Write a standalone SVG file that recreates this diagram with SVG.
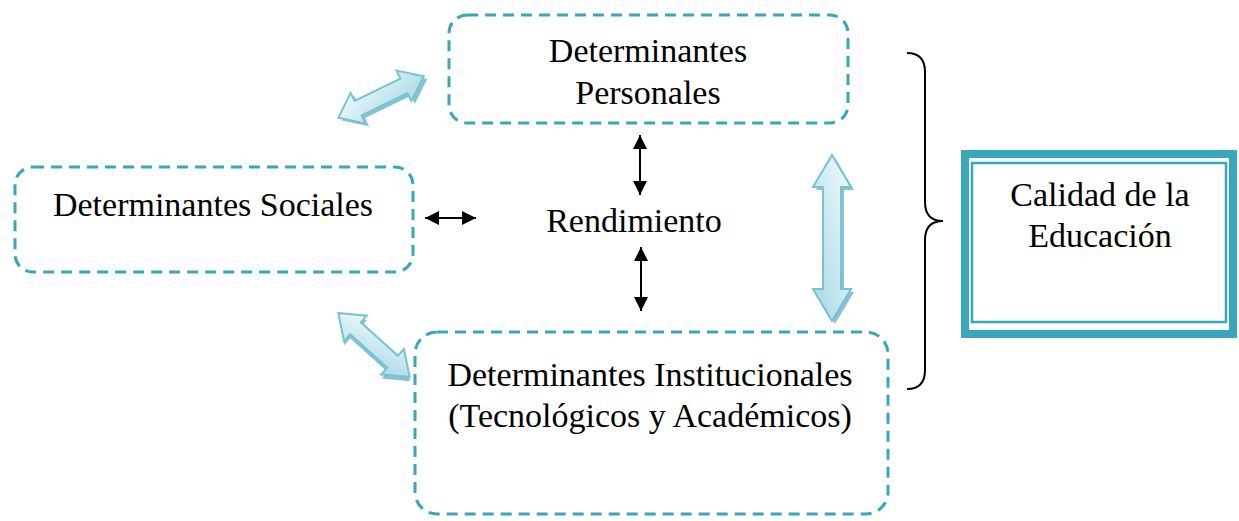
<svg xmlns="http://www.w3.org/2000/svg" width="1239" height="521" viewBox="0 0 1239 521">
<style>
.box{fill:none;stroke:#3aa6b9;stroke-width:3;stroke-dasharray:11 7;}
.t{font-family:"Liberation Serif","Times New Roman",serif;font-size:34px;fill:#000;text-anchor:middle;}
.blk{stroke:#000;stroke-width:2;fill:none;}
.barrow{fill:url(#bg);stroke:#78c2d2;stroke-width:2;stroke-linejoin:miter;}
.bshadow{fill:#86c3d1;}
</style>
<defs>
<linearGradient id="bg" x1="0" y1="0" x2="1" y2="1">
<stop offset="0" stop-color="#f4fbfd"/>
<stop offset="1" stop-color="#a3d7e4"/>
</linearGradient>
<marker id="ah" viewBox="0 0 10 10" refX="10" refY="5" markerWidth="7" markerHeight="7" markerUnits="strokeWidth" orient="auto-start-reverse">
<path d="M0,0 L10,5 L0,10 z" fill="#000"/>
</marker>
</defs>
<rect width="1239" height="521" fill="#fff"/>

<g id="personales">
<rect class="box" x="449" y="15" width="399" height="108" rx="18"/>
<text class="t" x="648" y="62">Determinantes</text>
<text class="t" x="648" y="104">Personales</text>
</g>

<g id="sociales">
<rect class="box" x="15" y="167" width="398" height="105" rx="18"/>
<text class="t" x="213" y="216">Determinantes Sociales</text>
</g>

<g id="rendimiento">
<text class="t" x="634" y="232">Rendimiento</text>
</g>

<g id="institucionales">
<rect class="box" x="415" y="332" width="473" height="182" rx="22"/>
<text class="t" x="650" y="386">Determinantes Institucionales</text>
<text class="t" x="650" y="427">(Tecnológicos y Académicos)</text>
</g>

<g id="calidad">
<rect x="965" y="154" width="268" height="180" fill="#fff" stroke="#3aa6b9" stroke-width="8"/>
<rect x="972" y="163" width="254" height="159" fill="none" stroke="#3aa6b9" stroke-width="2.5"/>
<text class="t" x="1100" y="206">Calidad de la</text>
<text class="t" x="1100" y="247">Educación</text>
</g>

<g id="connectors">
<line class="blk" x1="425" y1="218" x2="476" y2="218" marker-start="url(#ah)" marker-end="url(#ah)"/>
<line class="blk" x1="640" y1="135" x2="640" y2="195" marker-start="url(#ah)" marker-end="url(#ah)"/>
<line class="blk" x1="641" y1="247" x2="641" y2="311" marker-start="url(#ah)" marker-end="url(#ah)"/>

<g transform="translate(381,97) rotate(-26)">
<polygon class="bshadow" transform="translate(2,4)" points="-47.5,0 -25.5,-17 -25.5,-8 25.5,-8 25.5,-17 47.5,0 25.5,17 25.5,8 -25.5,8 -25.5,17"/>
<polygon class="barrow" points="-47.5,0 -25.5,-17 -25.5,-8 25.5,-8 25.5,-17 47.5,0 25.5,17 25.5,8 -25.5,8 -25.5,17"/>
</g>
<g transform="translate(374,345) rotate(42)">
<polygon class="bshadow" transform="translate(3,3)" points="-48,0 -25,-17 -25,-8 25,-8 25,-17 48,0 25,17 25,8 -25,8 -25,17"/>
<polygon class="barrow" points="-48,0 -25,-17 -25,-8 25,-8 25,-17 48,0 25,17 25,8 -25,8 -25,17"/>
</g>
<g transform="translate(832,238) rotate(90)">
<polygon class="bshadow" transform="translate(3,-3)" points="-83,0 -51,-19 -51,-9 51,-9 51,-19 83,0 51,19 51,9 -51,9 -51,19"/>
<polygon class="barrow" points="-83,0 -51,-19 -51,-9 51,-9 51,-19 83,0 51,19 51,9 -51,9 -51,19"/>
</g>

<path d="M907,53 Q925,53 925,72 L925,202 Q925,221 943,221 Q925,221 925,240 L925,370 Q925,389 907,389" fill="none" stroke="#000" stroke-width="2"/>
</g>
</svg>
